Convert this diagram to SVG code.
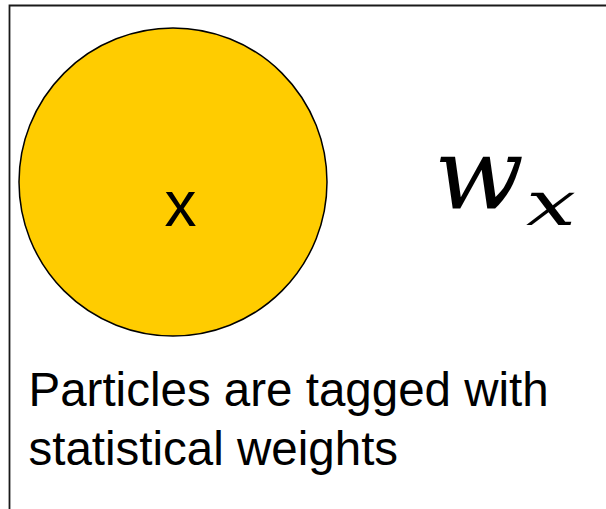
<svg xmlns="http://www.w3.org/2000/svg" width="606" height="509" viewBox="0 0 606 509">
<style>
.lbl{font-family:"Liberation Sans",Arial,sans-serif;fill:#000}
.math{font-family:"DejaVu Serif","Liberation Serif",serif;font-style:italic;fill:#000}
</style>
<rect width="606" height="509" fill="#fff"/>
<g id="frame">
<path d="M9.5,515 V5.5 H612" fill="none" stroke="#1a1a1a" stroke-width="1.8"/>
</g>
<g id="particle">
<circle cx="173" cy="182" r="154" fill="#ffcc00" stroke="#000" stroke-width="1.5"/>
<text class="lbl" x="180.5" y="226" font-size="64" text-anchor="middle">x</text>
</g>
<g id="weight">
<text class="math" x="434" y="208" font-size="100" textLength="90" lengthAdjust="spacingAndGlyphs">w</text>
<text class="math" x="526" y="225" font-size="62" textLength="50" lengthAdjust="spacingAndGlyphs">x</text>
</g>
<g id="caption">
<text class="lbl" x="28.5" y="406" font-size="47.5">Particles are tagged with</text>
<text class="lbl" x="28.5" y="465" font-size="47.5">statistical weights</text>
</g>
</svg>
